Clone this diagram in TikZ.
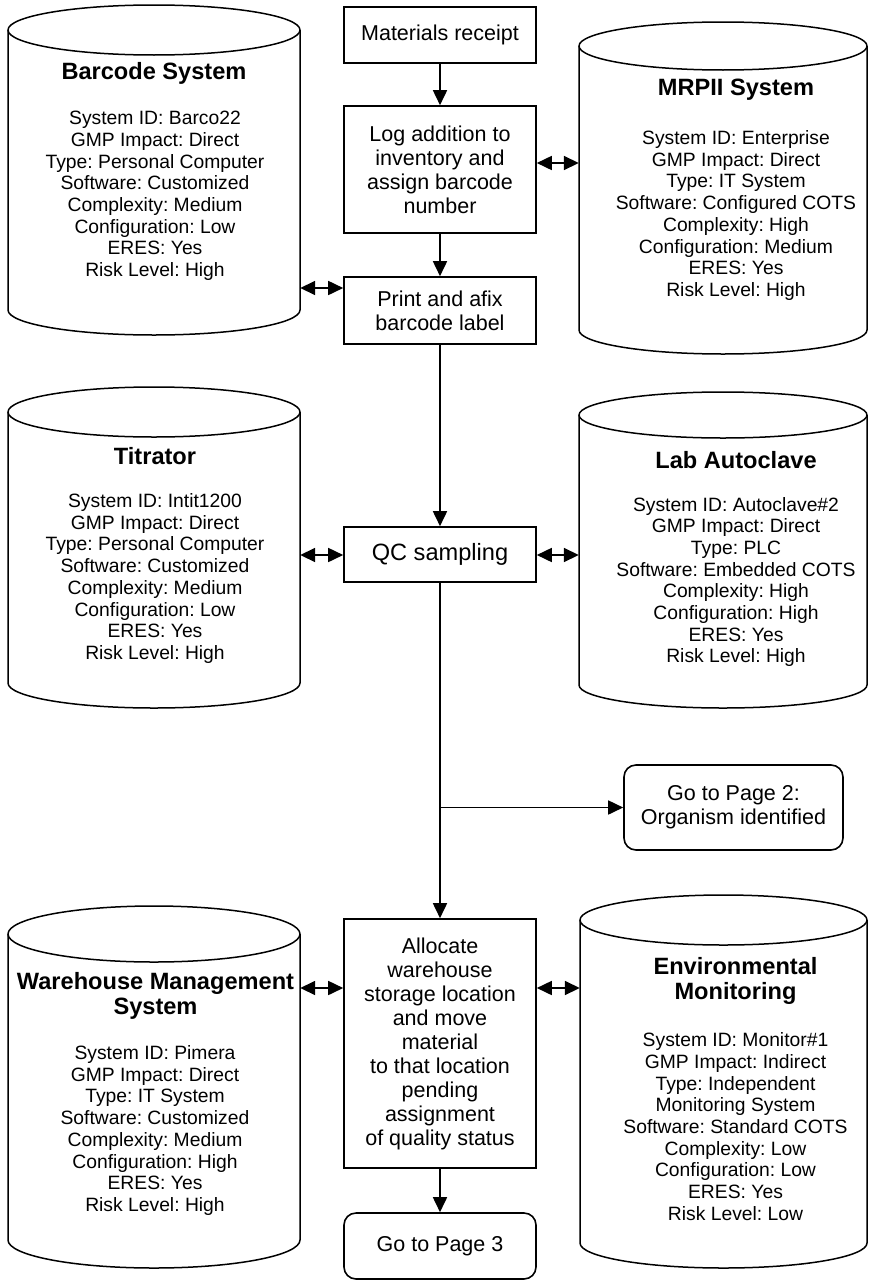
\documentclass[tikz,border=0pt]{standalone}
\usepackage{fontspec}
\setmainfont{Liberation Sans}
\usetikzlibrary{arrows.meta}
\frenchspacing

% database cylinder: name, left x, right x, top-ellipse y, bottom-arc y, ellipse y radius
\newcommand{\dbunit}[6]{%
  \node[inner sep=0pt, minimum width={(#3-#2)*1pt}, minimum height={(#4-#5)*1pt}]
    (#1) at ({(#2+#3)/2},{(#4+#5)/2}) {};
  \draw[dbline] ({(#2+#3)/2},#4) ellipse[x radius={(#3-#2)/2}, y radius=#6];
  \draw[dbline] (#2,#4) -- (#2,#5)
    arc[start angle=180, end angle=360, x radius={(#3-#2)/2}, y radius=#6] -- (#3,#4);
}

\tikzset{
  dbline/.style={line width=1.5pt, line join=round},
  dbtitle/.style={align=center, inner sep=0pt, font={\fontsize{23.6pt}{25pt}\selectfont\bfseries}},
  dbtext/.style={align=center, inner sep=0pt, font={\fontsize{19.3pt}{21.7pt}\selectfont}},
  stepbox/.style={draw, line width=1.6pt, minimum width=192pt, inner sep=0pt, align=center,
    font={\fontsize{21.5pt}{24pt}\selectfont}},
  pagebox/.style={stepbox, rounded corners=12pt},
  tip/.tip={Triangle[length=15pt, width=14pt]},
  flow/.style={-tip, line width=1.7pt},
  dbl/.style={tip-tip, line width=1.7pt},
}

\begin{document}
\begin{tikzpicture}[x=1pt, y=1pt]
\useasboundingbox (0,0) rectangle (868,-1282);
\clip (0,0) rectangle (868,-1282);

% central process chain
\node[stepbox, minimum height=56pt] (receipt) at (440,-35) {Materials receipt};
\node[stepbox, minimum height=127pt] (log) at (440,-169.5)
  {Log addition to\\inventory and\\assign barcode\\number};
\node[stepbox, minimum height=67pt] (print) at (440,-310.5)
  {Print and afix\\barcode label};
\node[stepbox, minimum height=55pt, font={\fontsize{23.6pt}{26pt}\selectfont}] (qc) at (440,-554.5)
  {QC sampling};
\node[pagebox, minimum width=219pt, minimum height=85pt] (page2) at (733.5,-807.5)
  {Go to Page 2:\\Organism identified};
\node[stepbox, minimum height=249pt] (alloc) at (440,-1043.5)
  {Allocate\\warehouse\\storage location\\and move\\material\\to that location\\pending\\assignment\\of quality status};
\node[pagebox, minimum height=66pt] (page3) at (440,-1246) {Go to Page 3};

% systems
\dbunit{barcode}{8}{300}{-30}{-310}{25}
\node[dbtitle] (barcodeT) at (154,-73) {Barcode System};
\node[dbtext] (barcodeB) at (155,-196)
  {System ID: Barco22\\GMP Impact: Direct\\Type: Personal Computer\\Software: Customized\\Complexity: Medium\\Configuration: Low\\ERES: Yes\\Risk Level: High};

\dbunit{mrp}{579}{867}{-46}{-330}{24}
\node[dbtitle] (mrpT) at (736,-90) {MRPII System};
\node[dbtext] (mrpB) at (736,-215.5)
  {System ID: Enterprise\\GMP Impact: Direct\\Type: IT System\\Software: Configured COTS\\Complexity: High\\Configuration: Medium\\ERES: Yes\\Risk Level: High};

\dbunit{titrator}{8}{300}{-412}{-683}{25}
\node[dbtitle] (titratorT) at (155,-456) {Titrator};
\node[dbtext] (titratorB) at (155,-578.5)
  {System ID: Intit1200\\GMP Impact: Direct\\Type: Personal Computer\\Software: Customized\\Complexity: Medium\\Configuration: Low\\ERES: Yes\\Risk Level: High};

\dbunit{autoclave}{579}{867}{-415}{-685}{23}
\node[dbtitle] (autoclaveT) at (736,-460) {Lab Autoclave};
\node[dbtext] (autoclaveB) at (736,-582)
  {System ID: Autoclave\#2\\GMP Impact: Direct\\Type: PLC\\Software: Embedded COTS\\Complexity: High\\Configuration: High\\ERES: Yes\\Risk Level: High};

\dbunit{warehouse}{8}{300}{-934}{-1240}{28}
\node[dbtitle] (warehouseT) at (155.5,-995.5) {Warehouse Management\\System};
\node[dbtext] (warehouseB) at (155,-1130.5)
  {System ID: Pimera\\GMP Impact: Direct\\Type: IT System\\Software: Customized\\Complexity: Medium\\Configuration: High\\ERES: Yes\\Risk Level: High};

\dbunit{envmon}{580}{867}{-920}{-1243}{25}
\node[dbtitle] (envmonT) at (735.5,-980.5) {Environmental\\Monitoring};
\node[dbtext] (envmonB) at (735.5,-1126.5)
  {System ID: Monitor\#1\\GMP Impact: Indirect\\Type: Independent\\Monitoring System\\Software: Standard COTS\\Complexity: Low\\Configuration: Low\\ERES: Yes\\Risk Level: Low};

% process flow
\draw[flow] (receipt) -- (log);
\draw[flow] (log) -- (print);
\draw[flow] (print) -- (qc);
\draw[flow] (qc) -- (alloc);
\draw[flow] (alloc) -- (page3);
\coordinate (split) at (qc.south |- page2.west);
\draw[flow] (split) -- (page2.west);

% data exchange with systems
\coordinate (yLog) at (0,-163);
\coordinate (yPrint) at (0,-288);
\coordinate (yQC) at (0,-555);
\coordinate (yAlloc) at (0,-988);
\draw[dbl] (mrp.west |- yLog) -- (log.east |- yLog);
\draw[dbl] (barcode.east |- yPrint) -- (print.west |- yPrint);
\draw[dbl] (titrator.east |- yQC) -- (qc.west |- yQC);
\draw[dbl] (autoclave.west |- yQC) -- (qc.east |- yQC);
\draw[dbl] (warehouse.east |- yAlloc) -- (alloc.west |- yAlloc);
\draw[dbl] (envmon.west |- yAlloc) -- (alloc.east |- yAlloc);
\end{tikzpicture}
\end{document}
